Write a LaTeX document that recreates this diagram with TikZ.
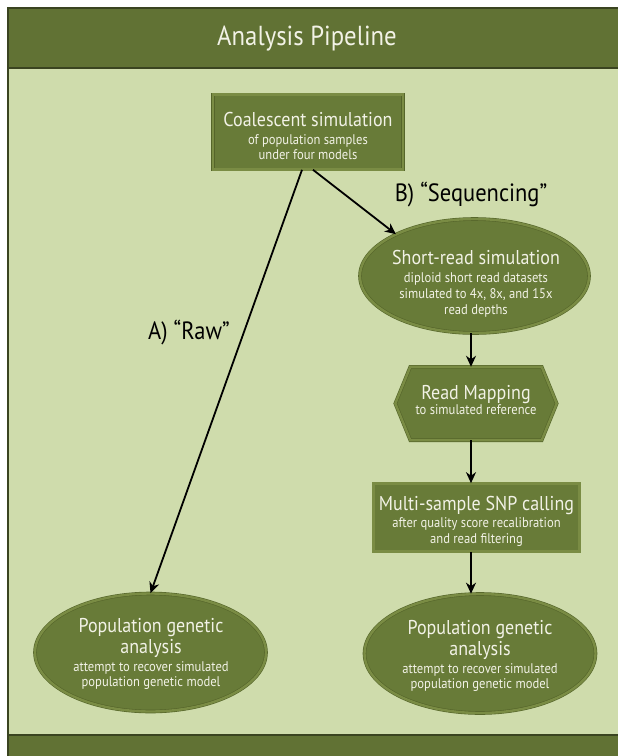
\documentclass[tikz,border=0pt]{standalone}
\usepackage{fontspec}
\setmainfont{PT Sans}[FakeStretch=0.9]
\usetikzlibrary{shapes.geometric,arrows.meta}
\definecolor{bgc}{HTML}{CFDCAC}
\definecolor{hdr}{HTML}{617234}
\definecolor{nodefill}{HTML}{687B38}
\definecolor{bevel}{HTML}{7A8C44}
\definecolor{nodeedge}{HTML}{55652A}
\definecolor{txtc}{HTML}{F2F2E6}
\definecolor{framec}{HTML}{3A4420}
\newcommand{\ttlfnt}{\fontsize{20}{20}\selectfont}
\newcommand{\subfnt}{\fontsize{14}{16}\selectfont}
\tikzset{
  shapestyle/.style={fill=nodefill, draw=nodeedge, line width=0.6pt, double=bevel, double distance=2.4pt},
  boxnode/.style={rectangle, shapestyle, inner sep=0pt},
  ellnode/.style={ellipse, shapestyle, inner sep=0pt},
  plain/.style={rectangle, inner sep=0pt},
  nodetxt/.style={text=txtc, align=center, inner sep=0pt, font={\fontsize{14}{16}\selectfont\lineskiplimit=-100pt}},
  lbl/.style={text=black, inner sep=0pt, font=\fontsize{25}{28}\selectfont},
  arr/.style={-{Stealth[length=11pt,width=10pt,inset=3.5pt]}, line width=1.8pt, black},
}
\begin{document}
\begin{tikzpicture}[x=1pt,y=-1pt]
\useasboundingbox (0,0) rectangle (618,756);
\fill[white] (0,0) rectangle (618,756);
\fill[bgc] (8,8) rectangle (618,756);
\fill[hdr] (8,8) rectangle (618,68);
\fill[hdr] (8,735) rectangle (618,756);
\draw[framec, line width=1.2pt] (618,8) -- (8,8) -- (8,756);
\draw[framec, line width=1.4pt] (8,68) -- (618,68);
\draw[framec, line width=1.2pt] (8,735) -- (618,735);
\node[text=txtc, inner sep=0pt, font=\fontsize{27.5}{30}\selectfont] (title) at (307,39) {Analysis Pipeline};

% nodes
\node[boxnode, minimum width=190pt, minimum height=75pt] (coal) at (308,132) {};
\node[nodetxt] (coalt) at (308,136.3) {{\ttlfnt Coalescent simulation}\\[2pt]{\subfnt of population samples}\\[-1pt]{\subfnt under four models}};

\node[ellnode, minimum width=229pt, minimum height=114pt] (sr) at (474.5,276) {};
\node[nodetxt] (srt) at (476,283.6) {{\ttlfnt Short-read simulation}\\[2pt]{\subfnt diploid short read datasets}\\{\subfnt simulated to 4x, 8x, and 15x}\\{\subfnt read depths}};

\node[plain, minimum width=131pt, minimum height=73pt] (rm) at (476,403.5) {};
\draw[shapestyle] (rm.north west) -- (rm.north east) -- ([xshift=15pt]rm.east) -- (rm.south east) -- (rm.south west) -- ([xshift=-15pt]rm.west) -- cycle;
\node[nodetxt] (rmt) at (476,400.3) {{\ttlfnt Read Mapping}\\[-1pt]{\subfnt to simulated reference}};

\node[boxnode, minimum width=206pt, minimum height=68pt] (snp) at (476.5,517.5) {};
\node[nodetxt] (snpt) at (476.5,521) {{\ttlfnt Multi-sample SNP calling}\\[1pt]{\subfnt after quality score recalibration}\\{\subfnt and read filtering}};

\node[ellnode, minimum width=231pt, minimum height=118pt] (popL) at (150.5,652.5) {};
\node[nodetxt] (popLt) at (151,653.7) {{\ttlfnt Population genetic}\\[5pt]{\ttlfnt analysis}\\[2pt]{\subfnt attempt to recover simulated}\\[-1pt]{\subfnt population genetic model}};

\node[ellnode, minimum width=231pt, minimum height=119pt] (popR) at (480,653.5) {};
\node[nodetxt] (popRt) at (480,656) {{\ttlfnt Population genetic}\\[5pt]{\ttlfnt analysis}\\[2pt]{\subfnt attempt to recover simulated}\\[-1pt]{\subfnt population genetic model}};

% labels
\node[lbl] (la) at (189,333) {A) “Raw”};
\node[lbl] (lb) at (471,195) {B) “Sequencing”};

% connectors
\coordinate (ax) at (471,0);
\draw[arr] ([xshift=-6pt]coal.south) -- (popL.north);
\draw[arr] ([xshift=5pt]coal.south) -- (sr.152);
\draw[arr] (sr.south -| ax) -- (rm.north -| ax);
\draw[arr] (rm.south -| ax) -- (snp.north -| ax);
\draw[arr] (snp.south -| ax) -- (popR.north -| ax);
\end{tikzpicture}
\end{document}
